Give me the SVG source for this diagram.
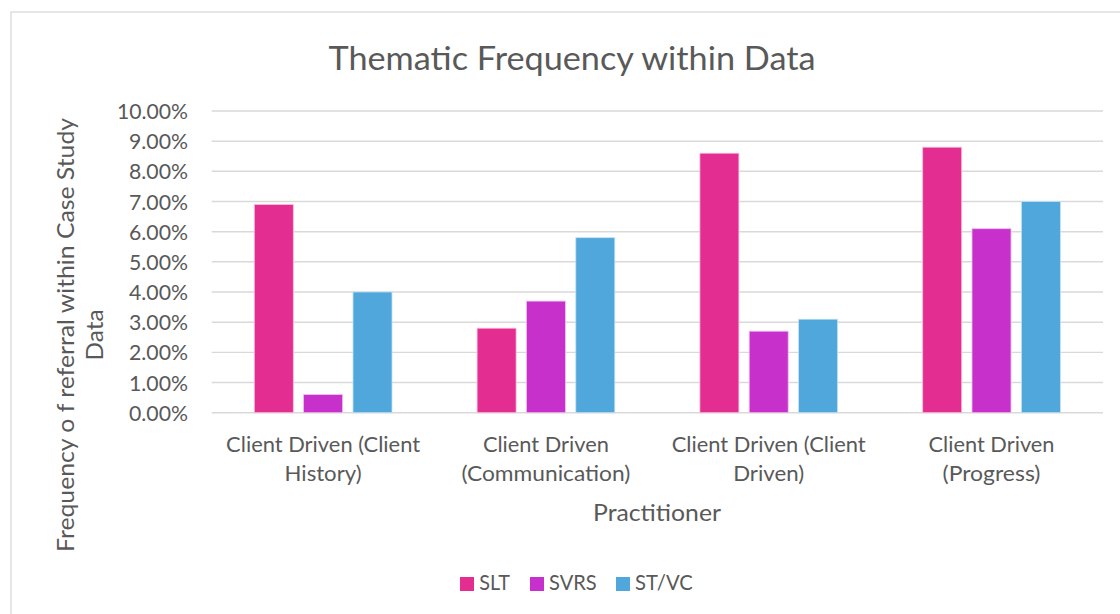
<svg xmlns="http://www.w3.org/2000/svg" width="1120" height="614" viewBox="0 0 1120 614">
<style>
text{font-family:Lato,"Open Sans","Liberation Sans",sans-serif;fill:#595959}
.tick{font-size:21.5px;text-anchor:end}
.cat{font-size:21.5px;text-anchor:middle}
.grid{stroke:#D9D9D9;stroke-width:1.4}
.slt{fill:#E32D91;stroke:#F7C0DE;stroke-width:0.8}
.svrs{fill:#C830CC;stroke:#EDC0EE;stroke-width:0.8}
.stvc{fill:#4FA7DC;stroke:#C4E1F3;stroke-width:0.8}
.leg{font-size:21px}
</style>
<rect x="0" y="0" width="1120" height="614" fill="#FFFFFF"/>
<rect x="11" y="12" width="1130" height="640" fill="#FFFFFF" stroke="#D9D9D9" stroke-width="1.3"/>
<g id="title"><text x="572" y="70" font-size="33.3" text-anchor="middle" textLength="487" lengthAdjust="spacingAndGlyphs">Thematic Frequency within Data</text></g>
<g id="gridlines">
<line class="grid" x1="211.7" y1="111" x2="1103" y2="111"/>
<line class="grid" x1="211.7" y1="141.2" x2="1103" y2="141.2"/>
<line class="grid" x1="211.7" y1="171.3" x2="1103" y2="171.3"/>
<line class="grid" x1="211.7" y1="201.5" x2="1103" y2="201.5"/>
<line class="grid" x1="211.7" y1="231.7" x2="1103" y2="231.7"/>
<line class="grid" x1="211.7" y1="261.8" x2="1103" y2="261.8"/>
<line class="grid" x1="211.7" y1="292" x2="1103" y2="292"/>
<line class="grid" x1="211.7" y1="322.2" x2="1103" y2="322.2"/>
<line class="grid" x1="211.7" y1="352.4" x2="1103" y2="352.4"/>
<line class="grid" x1="211.7" y1="382.5" x2="1103" y2="382.5"/>
<line class="grid" x1="211.7" y1="412.7" x2="1103" y2="412.7"/>
</g>
<g id="y-ticks">
<text class="tick" x="188" y="119" textLength="71" lengthAdjust="spacingAndGlyphs">10.00%</text>
<text class="tick" x="188" y="149.2" textLength="59" lengthAdjust="spacingAndGlyphs">9.00%</text>
<text class="tick" x="188" y="179.3" textLength="59" lengthAdjust="spacingAndGlyphs">8.00%</text>
<text class="tick" x="188" y="209.5" textLength="59" lengthAdjust="spacingAndGlyphs">7.00%</text>
<text class="tick" x="188" y="239.7" textLength="59" lengthAdjust="spacingAndGlyphs">6.00%</text>
<text class="tick" x="188" y="269.8" textLength="59" lengthAdjust="spacingAndGlyphs">5.00%</text>
<text class="tick" x="188" y="300" textLength="59" lengthAdjust="spacingAndGlyphs">4.00%</text>
<text class="tick" x="188" y="330.2" textLength="59" lengthAdjust="spacingAndGlyphs">3.00%</text>
<text class="tick" x="188" y="360.4" textLength="59" lengthAdjust="spacingAndGlyphs">2.00%</text>
<text class="tick" x="188" y="390.5" textLength="59" lengthAdjust="spacingAndGlyphs">1.00%</text>
<text class="tick" x="188" y="420.7" textLength="59" lengthAdjust="spacingAndGlyphs">0.00%</text>
</g>
<g id="bars">
<rect class="slt" x="254.3" y="204.5" width="39" height="208.2"/>
<rect class="svrs" x="303.6" y="394.6" width="39" height="18.1"/>
<rect class="stvc" x="353" y="292" width="39" height="120.7"/>
<rect class="slt" x="477.1" y="328.2" width="39" height="84.5"/>
<rect class="svrs" x="526.4" y="301.1" width="39" height="111.6"/>
<rect class="stvc" x="575.8" y="237.7" width="39" height="175"/>
<rect class="slt" x="699.9" y="153.2" width="39" height="259.5"/>
<rect class="svrs" x="749.2" y="331.2" width="39" height="81.5"/>
<rect class="stvc" x="798.6" y="319.2" width="39" height="93.5"/>
<rect class="slt" x="922.7" y="147.2" width="39" height="265.5"/>
<rect class="svrs" x="972" y="228.7" width="39" height="184"/>
<rect class="stvc" x="1021.4" y="201.5" width="39" height="211.2"/>
</g>
<g id="x-categories">
<text class="cat" x="323.1" y="451.7" textLength="194" lengthAdjust="spacingAndGlyphs">Client Driven (Client</text>
<text class="cat" x="323.1" y="481" textLength="77" lengthAdjust="spacingAndGlyphs">History)</text>
<text class="cat" x="545.9" y="451.7" textLength="126" lengthAdjust="spacingAndGlyphs">Client Driven</text>
<text class="cat" x="545.9" y="481" textLength="169" lengthAdjust="spacingAndGlyphs">(Communication)</text>
<text class="cat" x="768.7" y="451.7" textLength="194" lengthAdjust="spacingAndGlyphs">Client Driven (Client</text>
<text class="cat" x="768.7" y="481" textLength="71" lengthAdjust="spacingAndGlyphs">Driven)</text>
<text class="cat" x="991.5" y="451.7" textLength="126" lengthAdjust="spacingAndGlyphs">Client Driven</text>
<text class="cat" x="991.5" y="481" textLength="98" lengthAdjust="spacingAndGlyphs">(Progress)</text>
</g>
<g id="x-title"><text x="657" y="520.7" font-size="24" text-anchor="middle" textLength="128" lengthAdjust="spacingAndGlyphs">Practitioner</text></g>
<g id="y-title">
<text transform="translate(74,335) rotate(-90)" x="0" y="0" font-size="24" text-anchor="middle" textLength="434" lengthAdjust="spacingAndGlyphs">Frequency o f referral within Case Study</text>
<text transform="translate(103,335) rotate(-90)" x="0" y="0" font-size="24" text-anchor="middle" textLength="51" lengthAdjust="spacingAndGlyphs">Data</text>
</g>
<g id="legend">
<rect x="460" y="577" width="14" height="14" fill="#E32D91"/>
<text class="leg" x="479.3" y="590" textLength="30.7" lengthAdjust="spacingAndGlyphs">SLT</text>
<rect x="530" y="577" width="14" height="14" fill="#C830CC"/>
<text class="leg" x="549" y="590" textLength="47.7" lengthAdjust="spacingAndGlyphs">SVRS</text>
<rect x="616" y="577" width="14" height="14" fill="#4FA7DC"/>
<text class="leg" x="635" y="590" textLength="57.7" lengthAdjust="spacingAndGlyphs">ST/VC</text>
</g>
</svg>
